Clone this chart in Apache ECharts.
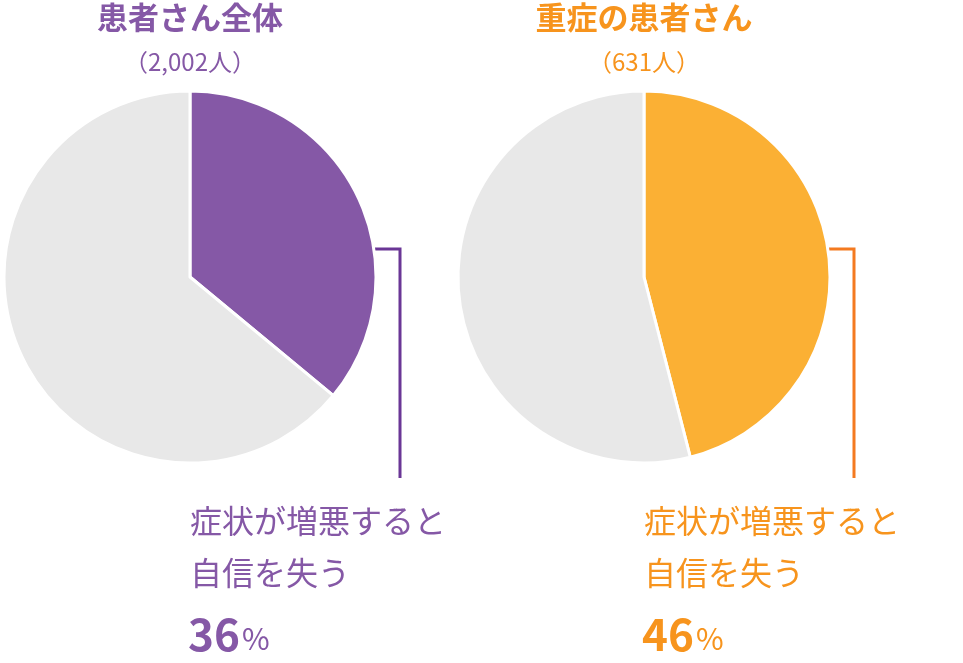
<!DOCTYPE html>
<html><head><meta charset="utf-8">
<script src="https://cdn.jsdelivr.net/npm/echarts@6/dist/echarts.min.js"></script>
<style>html,body{margin:0;padding:0;background:#fff}#c{width:963px;height:663px}</style>
</head><body><div id="c"></div>
<script>
const groups = ["患者さん全体", "重症の患者さん"];
const counts = ["（2,002人）", "（631人）"];
const shares = [36, 46];
const labelText = ["症状が増悪すると", "自信を失う"];
const mainColors = ["#8558A6", "#FBB034"];
const lineColors = ["#6A3696", "#F47A20"];
const textColors = ["#8558A6", "#F7941D"];
const centersX = [190, 644];
const F = '"Noto Sans CJK JP", "Noto Sans", sans-serif';

const series = shares.map((v, i) => ({
  type: 'pie', center: [centersX[i], 277], radius: 186, startAngle: 90, clockwise: true,
  silent: true, label: {show: false}, labelLine: {show: false},
  itemStyle: {borderColor: '#fff', borderWidth: 3},
  data: [{value: v, itemStyle: {color: mainColors[i]}}, {value: 100 - v, itemStyle: {color: '#E8E8E8'}}]
}));

const graphic = [];
shares.forEach((v, i) => {
  const x = centersX[i];
  graphic.push({type: 'text', left: x - 190 + 190, top: 2, style: {text: groups[i], font: 'bold 31px ' + F, fill: textColors[i], textAlign: 'center'}, x: 0});
});
const g = [];
shares.forEach((v, i) => {
  const x = centersX[i];
  g.push({type: 'text', x: x, y: 2, style: {text: groups[i], font: 'bold 31px ' + F, fill: textColors[i], align: 'center'}});
  g.push({type: 'text', x: x, y: 50, style: {text: counts[i], font: '24px ' + F, fill: textColors[i], align: 'center'}});
  g.push({type: 'polyline', shape: {points: [[x + 142, 249], [x + 210, 249], [x + 210, 478]]}, style: {stroke: lineColors[i], lineWidth: 3, fill: null}});
  g.push({type: 'text', x: x, y: 505, style: {text: labelText[0], font: '32px ' + F, fill: textColors[i]}});
  g.push({type: 'text', x: x, y: 557, style: {text: labelText[1], font: '32px ' + F, fill: textColors[i]}});
  g.push({type: 'text', x: x - 2, y: 612, style: {text: '{n|' + v + '}{p|%}', fill: textColors[i],
    rich: {n: {font: 'bold 44px ' + F, fill: textColors[i]}, p: {font: '30px ' + F, fill: textColors[i], padding: [10, 0, 0, 2]}}}});
});

const chart = echarts.init(document.getElementById('c'));
chart.setOption({animation: false, series: series, graphic: g});
</script></body></html>
